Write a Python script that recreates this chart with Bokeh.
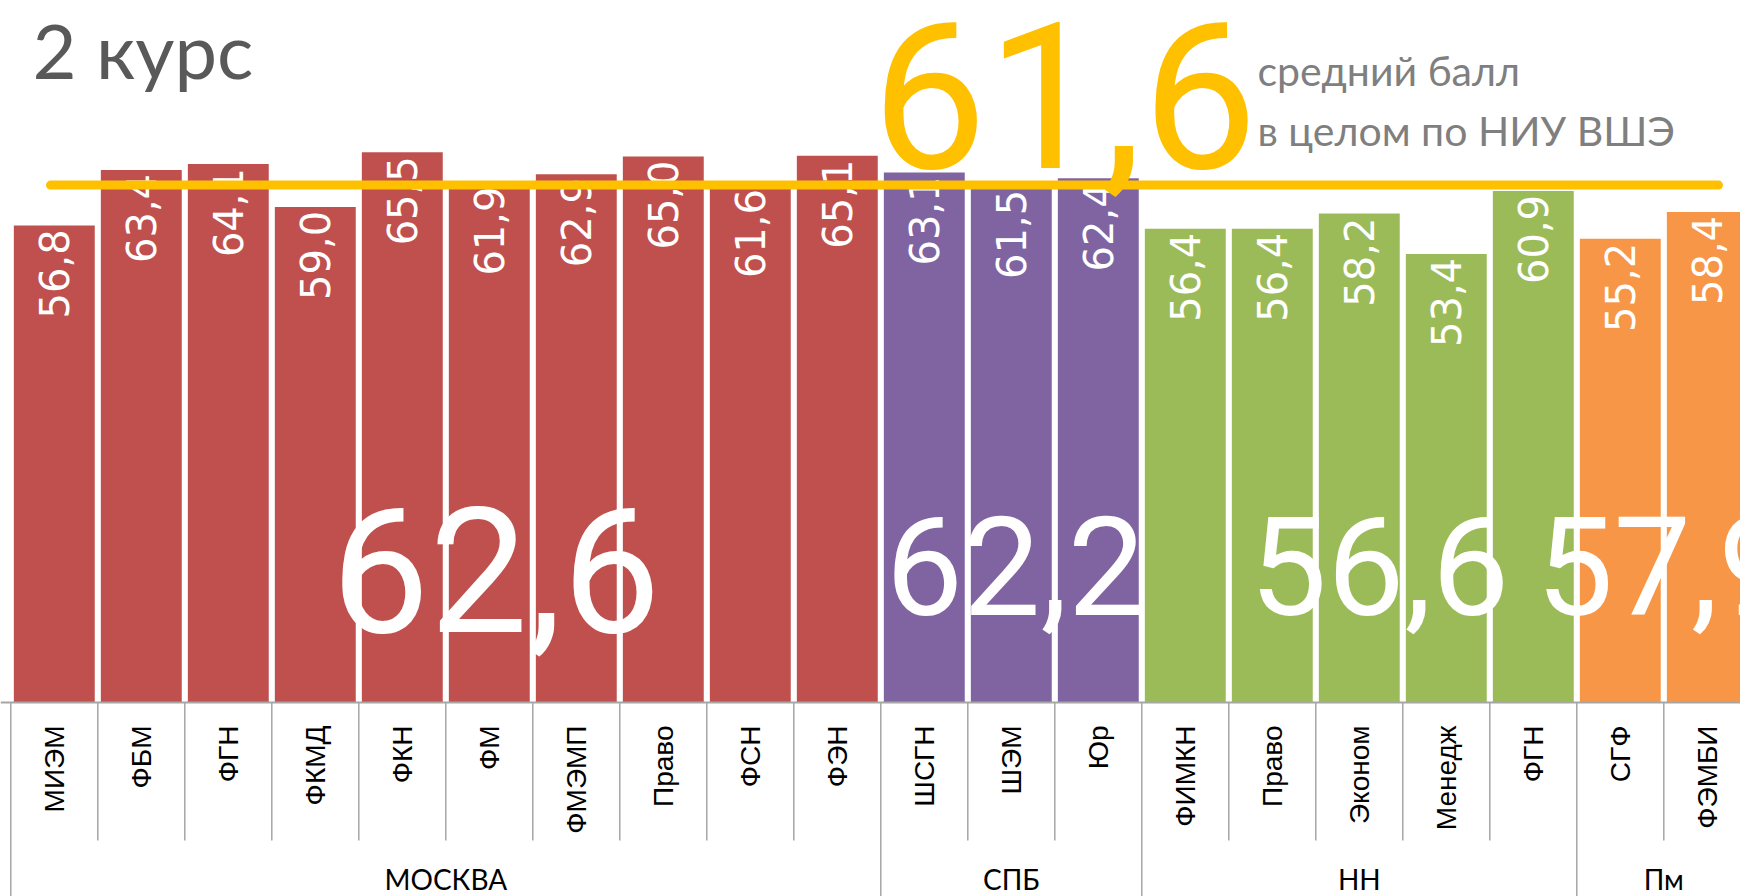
import math
from bokeh.plotting import figure
from bokeh.models import Range1d, Label, ColumnDataSource
from bokeh.embed import file_html
from bokeh.resources import INLINE
from bokeh.core.properties import value

# ---------------- data ----------------
groups = ["МОСКВА", "СПБ", "НН", "Пм"]
group_sizes = [10, 3, 5, 2]
group_means = ["62,6", "62,2", "56,6", "57,9"]
group_colors = ["#C0504D", "#8064A2", "#9BBB59", "#F79646"]
faculties = ["МИЭМ", "ФБМ", "ФГН", "ФКМД", "ФКН", "ФМ", "ФМЭМП", "Право", "ФСН", "ФЭН",
             "ШСГН", "ШЭМ", "Юр",
             "ФИМКН", "Право", "Эконом", "Менедж", "ФГН",
             "СГФ", "ФЭМБИ"]
scores = [56.8, 63.4, 64.1, 59.0, 65.5, 61.9, 62.9, 65.0, 61.6, 65.1,
          63.1, 61.5, 62.4,
          56.4, 56.4, 58.2, 53.4, 60.9,
          55.2, 58.4]
overall_mean = 61.6
overall_label = "61,6"
title_text = "2 курс"
note_lines = ["средний балл", "в целом по НИУ ВШЭ"]

# ---------------- layout (pixels) ----------------
W, H = 1740, 896
PX_X = 87.0          # pixels per category
PX_Y = 8.40          # pixels per score unit
LEFT_PAD = 10.3      # px from figure left to first category boundary
BASE_Y = 702.0       # px from figure top to baseline

x0 = -LEFT_PAD / PX_X
x1 = x0 + W / PX_X
y1 = BASE_Y / PX_Y
y0 = y1 - H / PX_Y


def px_below(py):
    return (BASE_Y - py) / PX_Y


p = figure(width=W, height=H, x_range=Range1d(x0, x1), y_range=Range1d(y0, y1),
           output_backend="svg", toolbar_location=None, min_border=0,
           x_axis_location=None, y_axis_location=None,
           outline_line_color=None, background_fill_color="white",
           border_fill_color="white")
p.grid.visible = False

bar_colors = []
for n, c in zip(group_sizes, group_colors):
    bar_colors += [c] * n

xs = [i + 0.5 for i in range(len(faculties))]
labels = [f"{v:.1f}".replace(".", ",") for v in scores]
src = ColumnDataSource(dict(x=xs, top=scores, color=bar_colors, lab=labels, fac=faculties))

p.vbar(x="x", top="top", bottom=0, width=0.93, fill_color="color", line_color=None, source=src)

# value labels inside bars
p.text(x="x", y="top", text="lab", source=src, angle=math.pi / 2,
       text_align="right", text_baseline="middle", y_offset=4,
       text_color="white", text_font=value("DejaVu Sans"), text_font_size="40px")

# ---- category axis (drawn) ----
axis_color = "#A6A6A6"
p.segment(x0=[x0], y0=[0], x1=[x1], y1=[0], line_color=axis_color, line_width=2)
bounds = [0]
for n in group_sizes:
    bounds.append(bounds[-1] + n)
inner = [i for i in range(len(faculties) + 1) if i not in bounds]
p.segment(x0=inner, y0=[0] * len(inner), x1=inner, y1=[px_below(840)] * len(inner),
          line_color=axis_color, line_width=1.5)
p.segment(x0=bounds, y0=[0] * len(bounds), x1=bounds, y1=[y0] * len(bounds),
          line_color=axis_color, line_width=1.5)

p.text(x="x", y=px_below(725), text="fac", source=src, angle=math.pi / 2,
       text_align="right", text_baseline="middle",
       text_color="black", text_font=value("Liberation Sans"), text_font_size="28px")

centers = [(bounds[k] + bounds[k + 1]) / 2 for k in range(len(groups))]
p.text(x=centers, y=[px_below(878)] * len(groups), text=groups,
       text_align="center", text_baseline="middle",
       text_color="black", text_font=value("Lato"), text_font_size="28px")

# ---- big group means (white) ----
mean_x_offsets = [50, 4, 20, 2]
mean_y_px = [569, 565, 565, 565]
mean_sizes = ["175px", "138px", "138px", "138px"]
msrc = ColumnDataSource(dict(x=centers, y=[px_below(v) for v in mean_y_px], t=group_means,
                             dx=mean_x_offsets, fs=mean_sizes))
p.text(x="x", y="y", text="t", x_offset="dx", text_font_size="fs", source=msrc,
       text_align="center", text_baseline="middle",
       text_color="white", text_font=value("Roboto"))

# ---- overall mean line ----
line_x0 = (50 - LEFT_PAD) / PX_X
line_x1 = (1718 - LEFT_PAD) / PX_X
p.line(x=[line_x0, line_x1], y=[overall_mean, overall_mean], line_color="#FFC000",
       line_width=9, line_cap="round")

# ---- annotations ----
p.add_layout(Label(x=32, y=H - 49, x_units="screen", y_units="screen", text=title_text,
                   text_font="Lato", text_font_size="76px", text_color="#595959",
                   text_baseline="middle", text_align="left"))
p.add_layout(Label(x=1064, y=H - 94, x_units="screen", y_units="screen", text=overall_label,
                   text_font="Roboto", text_font_size="205px", text_color="#FFC000",
                   text_baseline="middle", text_align="center"))
p.add_layout(Label(x=1257, y=H - 70, x_units="screen", y_units="screen", text=note_lines[0],
                   text_font="Lato", text_font_size="41px", text_color="#7F7F7F",
                   text_baseline="middle", text_align="left"))
p.add_layout(Label(x=1257, y=H - 130, x_units="screen", y_units="screen", text=note_lines[1],
                   text_font="Lato", text_font_size="41px", text_color="#7F7F7F",
                   text_baseline="middle", text_align="left"))

open("out.html", "w").write(file_html(p, INLINE))
